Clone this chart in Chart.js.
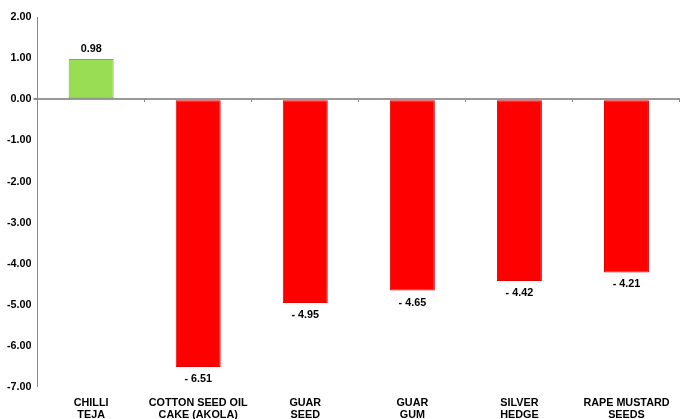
<!DOCTYPE html>
<html>
<head>
<meta charset="utf-8">
<script src="https://cdn.jsdelivr.net/npm/chart.js@4"></script>
<style>
    html, body { margin: 0; padding: 0; background: #fff; }
    #box { width: 680px; height: 419px; }
</style>
</head>
<body>
<div id="box"><canvas id="grafico"></canvas></div>
<script>
const categorias = [
    ["CHILLI", "TEJA"],
    ["COTTON SEED OIL", "CAKE (AKOLA)"],
    ["GUAR", "SEED"],
    ["GUAR", "GUM"],
    ["SILVER", "HEDGE"],
    ["RAPE MUSTARD", "SEEDS"]
];
const variacao = [0.98, -6.51, -4.95, -4.65, -4.42, -4.21];
const eixoY = { min: -7, max: 2, passo: 1 };

const fonteBold = { family: "Liberation Sans, Arial, sans-serif", size: 10.8, weight: "bold", lineHeight: 1.1 };

function formatarValor(v) {
    return v < 0 ? "- " + Math.abs(v).toFixed(2) : v.toFixed(2);
}

// rótulos de valor acima/abaixo de cada barra
const rotulosBarras = {
    id: "rotulosBarras",
    afterDatasetsDraw(chart) {
        const ctx = chart.ctx;
        const meta = chart.getDatasetMeta(0);
        ctx.save();
        ctx.font = "bold 10.8px Liberation Sans, Arial, sans-serif";
        ctx.fillStyle = "#000";
        ctx.textAlign = "center";
        ctx.textBaseline = "middle";
        meta.data.forEach((bar, i) => {
            const v = variacao[i];
            const y = v >= 0 ? bar.y - 10 : bar.y + 12;
            ctx.fillText(formatarValor(v), bar.x, y);
        });
        ctx.restore();
    }
};

new Chart(document.getElementById("grafico"), {
    type: "bar",
    data: {
        labels: categorias,
        datasets: [{
            data: variacao,
            xAxisID: "x",
            backgroundColor: variacao.map(v => v >= 0 ? "#99dd55" : "#ff0000"),
            borderColor: variacao.map(v => v >= 0 ? "#74b23a" : "#e00000"),
            borderWidth: 1,
            borderSkipped: false,
            categoryPercentage: 1,
            barPercentage: 0.42
        }]
    },
    options: {
        responsive: true,
        maintainAspectRatio: false,
        animation: false,
        layout: { padding: { top: 17, right: 0, bottom: -12, left: 5 } },
        plugins: {
            legend: { display: false },
            tooltip: { enabled: false }
        },
        scales: {
            x: {
                position: "bottom",
                grid: { display: false, drawTicks: false },
                border: { display: false },
                ticks: {
                    color: "#000",
                    font: fonteBold,
                    padding: 10,
                    maxRotation: 0,
                    autoSkip: false
                }
            },
            x2: {
                type: "category",
                labels: categorias,
                position: { y: 0 },
                offset: true,
                grid: {
                    offset: true,
                    drawOnChartArea: false,
                    drawTicks: true,
                    tickLength: 3,
                    color: "#888"
                },
                border: { display: false },
                ticks: { display: false }
            },
            y: {
                min: eixoY.min,
                max: eixoY.max,
                ticks: {
                    stepSize: eixoY.passo,
                    color: "#000",
                    font: fonteBold,
                    padding: 2,
                    callback: v => v.toFixed(2)
                },
                grid: {
                    color: c => c.tick && c.tick.value === 0 ? "#999" : "transparent",
                    lineWidth: c => c.tick && c.tick.value === 0 ? 2 : 0,
                    tickColor: "#888",
                    tickLength: 4,
                    drawTicks: true
                },
                border: { display: true, color: "#888", width: 1 }
            }
        }
    },
    plugins: [rotulosBarras]
});
</script>
</body>
</html>
